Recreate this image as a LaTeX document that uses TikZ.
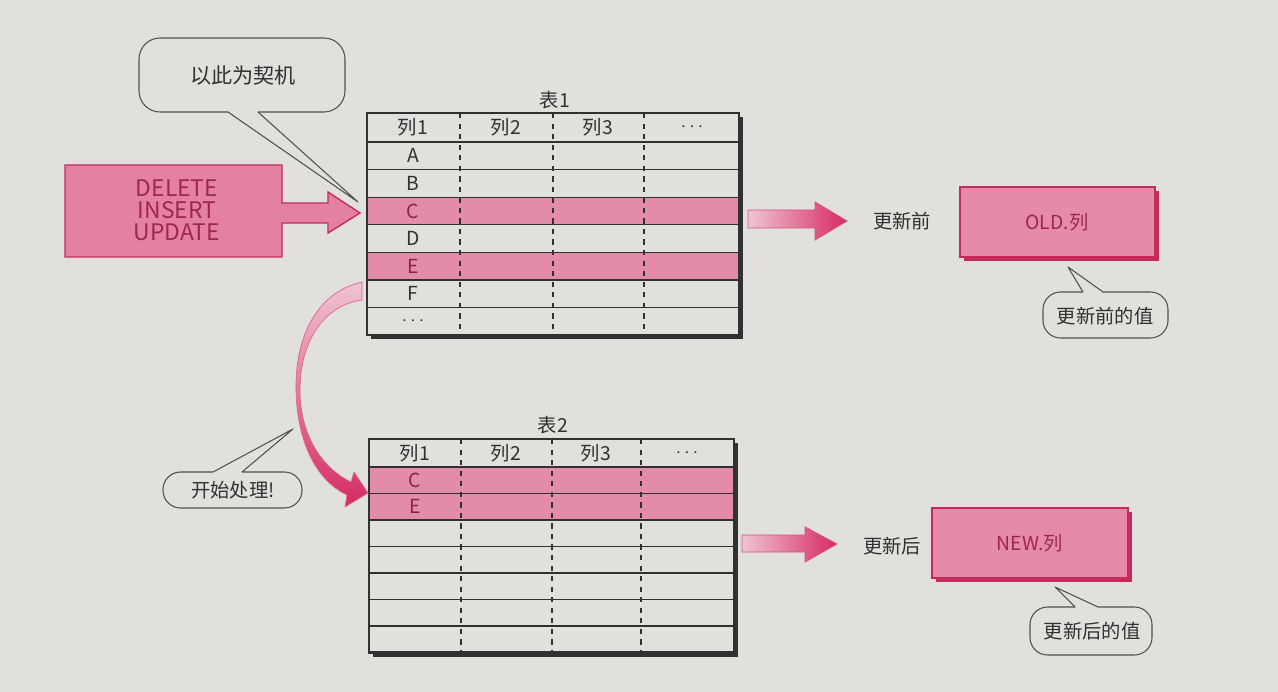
\documentclass[tikz,border=0pt]{standalone}
\usepackage{fontspec}
\setmainfont{Noto Sans CJK SC}
\usetikzlibrary{calc,positioning}

\definecolor{paper}{RGB}{226,224,221}
\definecolor{rowpink}{RGB}{226,140,168}
\definecolor{blockpink}{RGB}{228,128,162}
\definecolor{blockedge}{RGB}{198,42,92}
\definecolor{optext}{RGB}{158,38,84}
\definecolor{arrowlight}{RGB}{240,196,210}
\definecolor{arrowdark}{RGB}{214,42,98}
\definecolor{ink}{RGB}{50,48,48}

\begin{document}
\begin{tikzpicture}[x=0.02cm,y=-0.02cm]

\tikzstyle{cell}=[text=ink,font=\fontsize{11}{11}\selectfont,inner sep=0pt]
\tikzstyle{hotcell}=[text=optext!90!black,font=\fontsize{11}{11}\selectfont,inner sep=0pt]
\tikzstyle{grid}=[line width=0.7pt,ink]
\tikzstyle{cols}=[line width=0.9pt,ink,dash pattern=on 3pt off 3pt]
\tikzstyle{bubble}=[draw=ink!85,fill=paper,line width=0.6pt,line join=round]
\tikzstyle{blockarrow}=[fill=blockpink,draw=blockedge,line width=0.8pt,line join=miter]
\tikzstyle{fadearrow}=[left color=arrowlight,right color=arrowdark,draw=blockedge!80,line width=0.5pt]
\tikzstyle{colbox}=[fill=blockpink!92!white,draw=blockedge,line width=0.8pt]
\tikzstyle{note}=[text=ink,font=\fontsize{11}{11}\selectfont]

% Tlo

\fill[paper] (0,0) rectangle (1278,692);
\useasboundingbox (0,0) rectangle (1278,692);

% Tabela 1

\node (tab1) [note] at (555,100) {表1};

\fill[ink] (371,117) rectangle (743,339);
\fill[paper] (367,113) rectangle (739,335);

\fill[rowpink] (367,197.2) rectangle (739,224.8);
\fill[rowpink] (367,252.4) rectangle (739,280);

\draw[grid] (367,142) -- (739,142);
\draw[grid] (367,169.6) -- (739,169.6);
\draw[grid] (367,197.2) -- (739,197.2);
\draw[grid] (367,224.8) -- (739,224.8);
\draw[grid] (367,252.4) -- (739,252.4);
\draw[grid] (367,280) -- (739,280);
\draw[grid] (367,307.6) -- (739,307.6);

\draw[cols] (460,113) -- (460,335);
\draw[cols] (553,113) -- (553,335);
\draw[cols] (644,113) -- (644,335);

\draw[line width=1.2pt,ink] (367,113) rectangle (739,335);

\node (t1c1) [cell] at (413,127.5) {列1};
\node (t1c2) [cell] at (506,127.5) {列2};
\node (t1c3) [cell] at (598,127.5) {列3};
\node (t1c4) [cell] at (692,127.5) {$\cdots$};

\node (t1a) [cell] at (413,155.8) {A};
\node (t1b) [cell] at (413,183.4) {B};
\node (t1c) [hotcell] at (413,211) {C};
\node (t1d) [cell] at (413,238.6) {D};
\node (t1e) [hotcell] at (413,266.2) {E};
\node (t1f) [cell] at (413,293.8) {F};
\node (t1g) [cell] at (413,321.4) {$\cdots$};

% Tabela 2

\node (tab2) [note] at (553,425) {表2};

\fill[ink] (373,443) rectangle (738,656.5);
\fill[paper] (369,439) rectangle (734,652.5);

\fill[rowpink] (369,467) rectangle (734,493.5);
\fill[rowpink] (369,493.5) rectangle (734,520);

\draw[grid] (369,467) -- (734,467);
\draw[grid] (369,493.5) -- (734,493.5);
\draw[grid] (369,520) -- (734,520);
\draw[grid] (369,546.5) -- (734,546.5);
\draw[grid] (369,573) -- (734,573);
\draw[grid] (369,599.5) -- (734,599.5);
\draw[grid] (369,626) -- (734,626);

\draw[cols] (461,439) -- (461,652.5);
\draw[cols] (552,439) -- (552,652.5);
\draw[cols] (641,439) -- (641,652.5);

\draw[line width=1.2pt,ink] (369,439) rectangle (734,652.5);

\node (t2c1) [cell] at (415,453) {列1};
\node (t2c2) [cell] at (506,453) {列2};
\node (t2c3) [cell] at (596,453) {列3};
\node (t2c4) [cell] at (687,453) {$\cdots$};

\node (t2c) [hotcell] at (415,480.2) {C};
\node (t2e) [hotcell] at (415,506.8) {E};

% Operacje

\draw[blockarrow] (65,165) -- (282,165) -- (282,203) -- (328,203) -- (328,192) -- (360,213) -- (328,233) -- (328,223) -- (282,223) -- (282,257) -- (65,257) -- cycle;

\node (ops) [text=optext,font=\fontsize{13}{12.5}\selectfont,align=center,inner sep=0pt] at (177,210) {DELETE\\INSERT\\UPDATE};

% Dymek: wyzwalacz

\draw[bubble] (358,202) -- (258,112) [rounded corners=12] -- (345,112) -- (345,38) -- (139,38) -- (139,112) [sharp corners] -- (228,112) -- cycle;
\node (trigger) [text=ink,font=\fontsize{12}{12}\selectfont] at (243,76) {以此为契机};

% Strzalka wygieta

\shade[top color=arrowlight,bottom color=arrowdark,draw=blockedge!70,line width=0.4pt]
  (362,282) .. controls (318,292) and (295,335) .. (296,390)
  .. controls (297,440) and (315,480) .. (347,495)
  -- (345,507) -- (368,493) -- (354,472) -- (351,482)
  .. controls (322,468) and (300,435) .. (300,390)
  .. controls (300,340) and (325,305) .. (362,300) -- cycle;

\draw[bubble] (293,429) -- (242,472) [rounded corners=10] -- (302,472) -- (302,508) -- (163,508) -- (163,472) [sharp corners] -- (213,472) -- cycle;
\node (start) [text=ink,font=\fontsize{11}{11}\selectfont] at (233,490) {开始处理!};

% Przed aktualizacja

\shade[fadearrow] (748,210) -- (815,210) -- (815,202) -- (847,221) -- (815,240) -- (815,228) -- (748,228) -- cycle;
\node (before) [note] at (902,221) {更新前};

\fill[blockedge] (964,191) rectangle (1159,261);
\draw[colbox] (960,187) rectangle (1155,257);
\node (old) [text=optext,font=\fontsize{11}{11}\selectfont] at (1057,222) {OLD.列};

\draw[bubble] (1068,267) -- (1103,292) [rounded corners=10] -- (1168,292) -- (1168,338) -- (1043,338) -- (1043,292) [sharp corners] -- (1083,292) -- cycle;
\node (oldval) [note] at (1105,316) {更新前的值};

% Po aktualizacji

\shade[fadearrow] (742,535) -- (805,535) -- (805,527) -- (837,544) -- (805,562) -- (805,552) -- (742,552) -- cycle;
\node (after) [note] at (892,546) {更新后};

\fill[blockedge] (936,512) rectangle (1132,582);
\draw[colbox] (932,508) rectangle (1128,578);
\node (new) [text=optext,font=\fontsize{11}{11}\selectfont] at (1030,543) {NEW.列};

\draw[bubble] (1055,587) -- (1098,607) [rounded corners=10] -- (1152,607) -- (1152,655) -- (1030,655) -- (1030,607) [sharp corners] -- (1075,607) -- cycle;
\node (newval) [note] at (1092,631) {更新后的值};

\end{tikzpicture}
\end{document}
